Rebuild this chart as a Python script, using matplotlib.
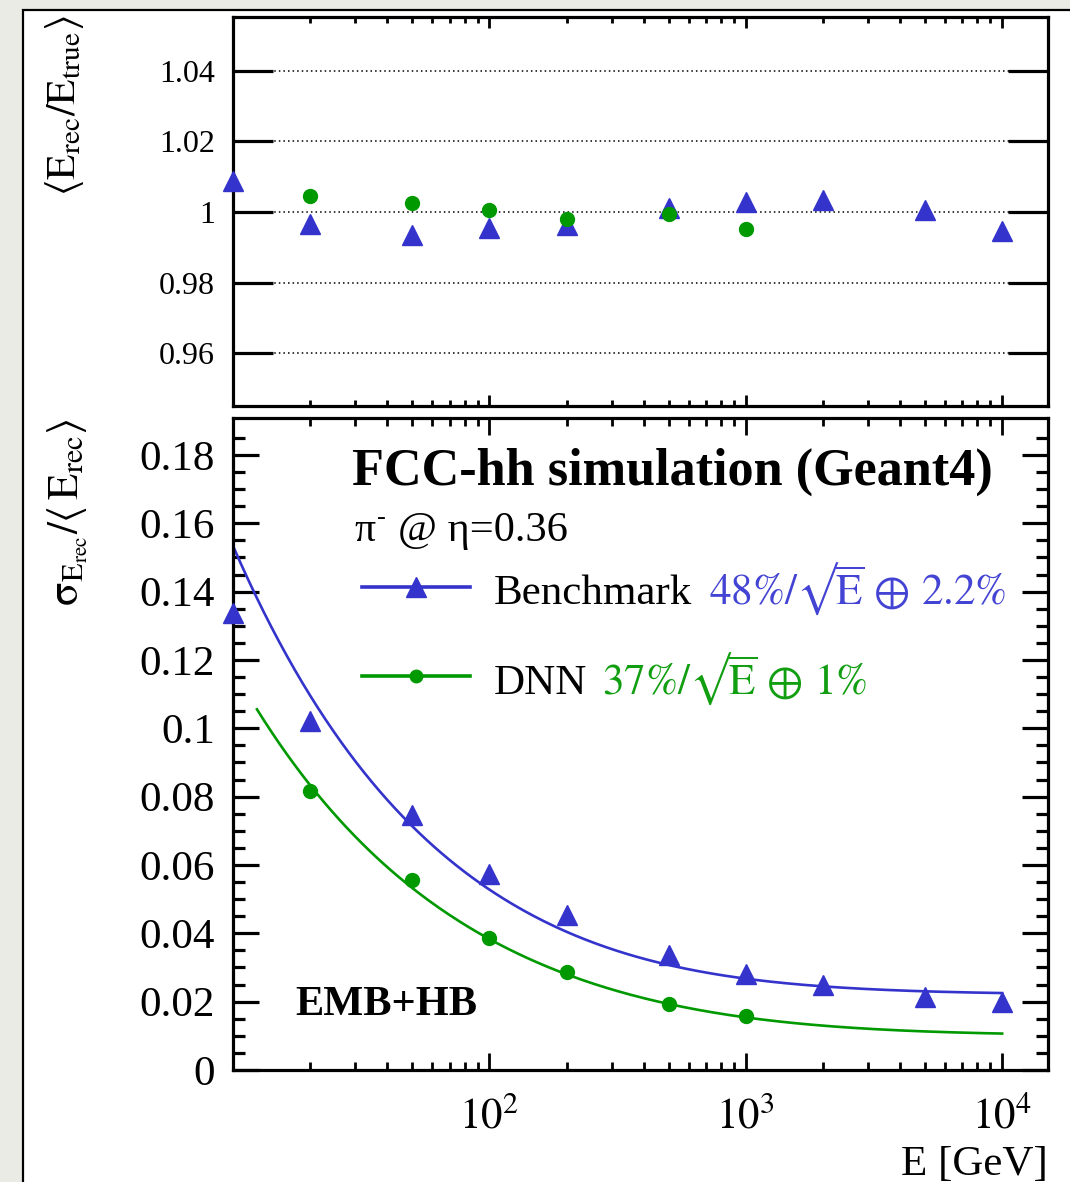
import numpy as np
import matplotlib
matplotlib.use("Agg")
import matplotlib.pyplot as plt
from matplotlib.patches import Rectangle
from matplotlib.ticker import FixedLocator, FixedFormatter, LogLocator, NullFormatter

# ---------------- data ----------------
energy = [10, 20, 50, 100, 200, 500, 1000, 2000, 5000, 10000]
energy_dnn = [20, 50, 100, 200, 500, 1000]

lin_bench = [1.0088, 0.9966, 0.9935, 0.9955, 0.9964, 1.0011, 1.0028, 1.0034, 1.0007, 0.9945]
lin_dnn = [1.0045, 1.0026, 1.0006, 0.9981, 0.9993, 0.9952]

res_bench = [0.1336, 0.1020, 0.0746, 0.0573, 0.0453, 0.0336, 0.0281, 0.0249, 0.0213, 0.0199]
res_dnn = [0.0816, 0.0556, 0.0386, 0.0287, 0.0193, 0.0158]

# fit parameters (stochastic, constant) shown in the legend
fit_bench = (0.48, 0.022)
fit_dnn = (0.37, 0.010)
fit_range_bench = (10, 10000)
fit_range_dnn = (12.4, 10000)

top_yticks = [0.96, 0.98, 1.0, 1.02, 1.04]
top_ylabels = ["0.96", "0.98", "1", "1.02", "1.04"]
bot_yticks = [0, 0.02, 0.04, 0.06, 0.08, 0.1, 0.12, 0.14, 0.16, 0.18]
bot_ylabels = ["0", "0.02", "0.04", "0.06", "0.08", "0.1", "0.12", "0.14", "0.16", "0.18"]
xticks = [100, 1000, 10000]
xticklabels = [r"$10^{2}$", r"$10^{3}$", r"$10^{4}$"]

BLUE = "#3434cc"
GREEN = "#009900"
SQRT = "\u221a"

plt.rcParams["font.family"] = ["Liberation Serif", "DejaVu Serif"]
plt.rcParams["mathtext.fontset"] = "stix"

W, H = 1070, 1182
fig = plt.figure(figsize=(W / 100, H / 100), dpi=100)
fig.patch.set_facecolor("#ebebe6")


def fx(x):
    return x / W


def fy(y):
    return 1 - y / H


# white canvas with black frame
fig.add_artist(Rectangle((fx(23), -0.1), 1.2, fy(10) + 0.1, transform=fig.transFigure,
                         facecolor="white", edgecolor="black", lw=1.6, zorder=0))

L, R = 233, 1048
ax1 = fig.add_axes([fx(L), fy(406), (R - L) / W, (406 - 17) / H])
ax2 = fig.add_axes([fx(L), fy(1070), (R - L) / W, (1070 - 418) / H])

XMIN, XMAX = 10, 15100
for ax in (ax1, ax2):
    ax.set_xscale("log")
    ax.set_xlim(XMIN, XMAX)
    for s in ax.spines.values():
        s.set_linewidth(2.3)
    ax.xaxis.set_major_locator(FixedLocator(xticks))
    ax.xaxis.set_minor_locator(LogLocator(base=10, subs=np.arange(2, 10), numticks=20))
    ax.xaxis.set_minor_formatter(NullFormatter())

# ---------------- top panel ----------------
ax1.set_ylim(0.945, 1.0553)
ax1.yaxis.set_major_locator(FixedLocator(top_yticks))
ax1.yaxis.set_major_formatter(FixedFormatter(top_ylabels))
ax1.set_xticklabels([])
ax1.tick_params(axis="y", which="major", direction="in", length=29, width=2.3,
                left=True, right=True, labelsize=23, pad=13)
ax1.tick_params(axis="x", which="major", direction="in", length=8, width=2.0,
                top=True, bottom=True)
ax1.tick_params(axis="x", which="minor", direction="in", length=4.3, width=2.0,
                top=True, bottom=True)
ax1.grid(axis="y", which="major", linestyle=(0, (1, 2)), color="black", lw=1.1, zorder=0)
ax1.plot(energy, lin_bench, linestyle="none", marker="^", ms=14, color=BLUE,
         clip_on=False, zorder=3)
ax1.plot(energy_dnn, lin_dnn, linestyle="none", marker="o", ms=10, color=GREEN,
         clip_on=False, zorder=4)

# ---------------- bottom panel ----------------
ax2.set_ylim(0, 0.1908)
ax2.yaxis.set_major_locator(FixedLocator(bot_yticks))
ax2.yaxis.set_major_formatter(FixedFormatter(bot_ylabels))
ax2.yaxis.set_minor_locator(FixedLocator(np.arange(0.005, 0.19, 0.005)))
ax2.set_xticklabels(xticklabels)
ax2.tick_params(axis="y", which="major", direction="in", length=18.7, width=2.3,
                left=True, right=True, labelsize=31, pad=13)
ax2.tick_params(axis="y", which="minor", direction="in", length=8.6, width=2.3,
                left=True, right=True)
ax2.tick_params(axis="x", which="major", direction="in", length=12, width=2.0,
                top=True, bottom=True, labelsize=31, pad=20)
ax2.tick_params(axis="x", which="minor", direction="in", length=5.8, width=2.0,
                top=True, bottom=True)


def fit_curve(params, rng):
    a, c = params
    e = np.logspace(np.log10(rng[0]), np.log10(rng[1]), 300)
    return e, np.sqrt((a / np.sqrt(e)) ** 2 + c ** 2)


eb, sb = fit_curve(fit_bench, fit_range_bench)
ed, sd = fit_curve(fit_dnn, fit_range_dnn)
ax2.plot(eb, sb, color=BLUE, lw=1.9, zorder=2)
ax2.plot(ed, sd, color=GREEN, lw=1.9, zorder=2)
ax2.plot(energy, res_bench, linestyle="none", marker="^", ms=14, color=BLUE,
         clip_on=False, zorder=3)
ax2.plot(energy_dnn, res_dnn, linestyle="none", marker="o", ms=10, color=GREEN,
         clip_on=False, zorder=4)

# legend (drawn manually, ROOT style)
def ax2frac(x, y):
    return ((x - L) / (R - L), (1070 - y) / (1070 - 418))


for ypix, col, mk, ms in [(587, BLUE, "^", 14), (676, GREEN, "o", 9)]:
    x0, y0 = ax2frac(362, ypix)
    x1, _ = ax2frac(470, ypix)
    ax2.plot([x0, x1], [y0, y0], color=col, lw=2.6, transform=ax2.transAxes, clip_on=False)
    ax2.plot([(x0 + x1) / 2], [y0], marker=mk, ms=ms, color=col, transform=ax2.transAxes,
             clip_on=False)

fig.text(fx(494), fy(604), "Benchmark", fontsize=31, va="baseline", ha="left")
fig.text(fx(709), fy(604), r"$48\%/" + SQRT + r"\overline{\mathrm{E}}\,\oplus\,2.2\%$",
         fontsize=31, va="baseline", ha="left", color="#4444d4")
fig.text(fx(494), fy(694), "DNN", fontsize=31, va="baseline", ha="left")
fig.text(fx(602), fy(694), r"$37\%/" + SQRT + r"\overline{\mathrm{E}}\,\oplus\,1\%$",
         fontsize=31, va="baseline", ha="left", color="#119e11")

fig.text(fx(352), fy(485), "FCC-hh simulation (Geant4)", fontsize=37.6, fontweight="bold",
         va="baseline", ha="left")
fig.text(fx(354), fy(541), "π", fontsize=30, va="baseline", ha="left")
fig.text(fx(377), fy(524), "-", fontsize=19, va="baseline", ha="left")
fig.text(fx(398), fy(541), "@ η=0.36", fontsize=30.5, va="baseline", ha="left")
fig.text(fx(295), fy(1015), "EMB+HB", fontsize=30.5, fontweight="bold", va="baseline",
         ha="left")

fig.text(fx(1048), fy(1175), "E [GeV]", fontsize=31, va="baseline", ha="right")

fig.text(fx(64), fy(15), r"$\langle\mathrm{E}_{\mathrm{rec}}/\mathrm{E}_{\mathrm{true}}\rangle$",
         fontsize=30, rotation=90, ha="center", va="top")
fig.text(fx(68), fy(418),
         r"$\mathrm{\sigma}_{\mathrm{E}_{\mathrm{rec}}}/\langle\,\mathrm{E}_{\mathrm{rec}}\rangle$",
         fontsize=31, rotation=90, ha="center", va="top")

fig.savefig("out.png", dpi=100, facecolor=fig.get_facecolor())
